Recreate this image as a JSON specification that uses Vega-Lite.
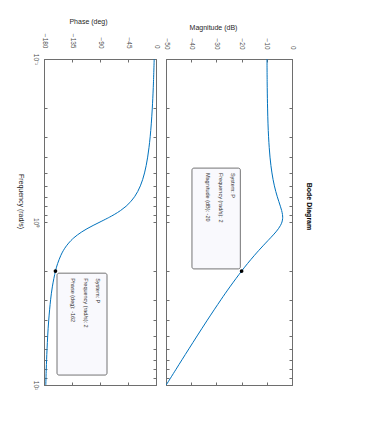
{
  "$schema": "https://vega.github.io/schema/vega-lite/v6.json",
  "padding": {"left": 16, "top": 16, "right": 5, "bottom": 5},
  "bounds": "flush",
  "spacing": 10,
  "config": {
    "view": {"stroke": "#7a7a7a", "strokeWidth": 1},
    "font": "Liberation Sans",
    "axis": {
      "grid": false,
      "labelFlush": false,
      "labelOverlap": false,
      "domainColor": "#6e6e6e",
      "tickColor": "#6e6e6e",
      "labelColor": "#4d4d4d",
      "titleColor": "#262626",
      "labelFont": "Liberation Sans",
      "titleFont": "Liberation Sans",
      "labelFontSize": 6.5,
      "titleFontSize": 7,
      "titleFontWeight": "normal"
    }
  },
  "datasets": {
    "bode": [
      {"freq": 0.1, "mag": -9.92, "phase": -2.89},
      {"freq": 0.15, "mag": -9.83, "phase": -4.39},
      {"freq": 0.2, "mag": -9.69, "phase": -5.95},
      {"freq": 0.25, "mag": -9.52, "phase": -7.59},
      {"freq": 0.3, "mag": -9.30, "phase": -9.36},
      {"freq": 0.35, "mag": -9.03, "phase": -11.28},
      {"freq": 0.4, "mag": -8.73, "phase": -13.39},
      {"freq": 0.45, "mag": -8.37, "phase": -15.76},
      {"freq": 0.5, "mag": -7.96, "phase": -18.43},
      {"freq": 0.55, "mag": -7.50, "phase": -21.52},
      {"freq": 0.6, "mag": -6.99, "phase": -25.11},
      {"freq": 0.65, "mag": -6.43, "phase": -29.37},
      {"freq": 0.7, "mag": -5.83, "phase": -34.46},
      {"freq": 0.75, "mag": -5.21, "phase": -40.60},
      {"freq": 0.8, "mag": -4.62, "phase": -48.01},
      {"freq": 0.85, "mag": -4.11, "phase": -56.86},
      {"freq": 0.9, "mag": -3.78, "phase": -67.11},
      {"freq": 0.935, "mag": -3.70, "phase": -74.94},
      {"freq": 0.95, "mag": -3.71, "phase": -78.40},
      {"freq": 1.0, "mag": -3.98, "phase": -90.0},
      {"freq": 1.05, "mag": -4.57, "phase": -101.05},
      {"freq": 1.1, "mag": -5.40, "phase": -110.90},
      {"freq": 1.15, "mag": -6.38, "phase": -119.29},
      {"freq": 1.2, "mag": -7.43, "phase": -126.25},
      {"freq": 1.25, "mag": -8.49, "phase": -131.99},
      {"freq": 1.3, "mag": -9.54, "phase": -136.71},
      {"freq": 1.4, "mag": -11.50, "phase": -143.91},
      {"freq": 1.5, "mag": -13.27, "phase": -149.04},
      {"freq": 1.6, "mag": -14.88, "phase": -152.85},
      {"freq": 1.8, "mag": -17.66, "phase": -158.11},
      {"freq": 2.0, "mag": -20.00, "phase": -161.57},
      {"freq": 2.5, "mag": -24.64, "phase": -166.61},
      {"freq": 3.0, "mag": -28.21, "phase": -169.38},
      {"freq": 4.0, "mag": -33.60, "phase": -172.41},
      {"freq": 5.0, "mag": -37.65, "phase": -174.05},
      {"freq": 6.0, "mag": -40.91, "phase": -175.10},
      {"freq": 7.0, "mag": -43.65, "phase": -175.83},
      {"freq": 8.0, "mag": -46.00, "phase": -176.37},
      {"freq": 10.0, "mag": -49.92, "phase": -177.11}
    ],
    "tip": [{"freq": 2, "mag": -20, "phase": -161.57}]
  },
  "hconcat": [
    {
      "width": 112,
      "height": 326,
      "layer": [
        {
          "data": {"name": "bode"},
          "mark": {"type": "line", "color": "#0072BD", "strokeWidth": 1, "interpolate": "catmull-rom"},
          "encoding": {
            "order": {"field": "freq", "type": "quantitative"},
            "x": {
              "field": "phase", "type": "quantitative",
              "scale": {"domain": [-180, 0], "nice": false, "zero": false},
              "axis": {
                "orient": "top", "values": [-180, -135, -90, -45, 0],
                "title": "Phase (deg)", "titleX": 44, "titleY": -38, "titleAngle": 0,
                "titleAlign": "center", "titleBaseline": "middle",
                "labelAngle": 90, "labelAlign": "right", "labelBaseline": "middle",
                "labelPadding": 14, "tickSize": -3
              }
            },
            "y": {
              "field": "freq", "type": "quantitative",
              "scale": {"type": "log", "domain": [0.1, 10], "reverse": true, "nice": false},
              "axis": {
                "orient": "left",
                "values": [0.1, 0.2, 0.3, 0.4, 0.5, 0.6, 0.7, 0.8, 0.9, 1, 2, 3, 4, 5, 6, 7, 8, 9, 10],
                "labelExpr": "datum.value == 0.1 ? '10⁻¹' : datum.value == 1 ? '10⁰' : datum.value == 10 ? '10¹' : ''",
                "title": "Frequency (rad/s)", "titleAngle": 90, "titleX": -24, "titleY": 142,
                "titleAlign": "center", "titleBaseline": "middle",
                "labelAngle": 90, "labelAlign": "center", "labelBaseline": "top",
                "labelPadding": 9, "tickSize": -3
              }
            }
          }
        },
        {
          "data": {"name": "tip"},
          "mark": {"type": "rect", "fill": "#f9f9fd", "stroke": "#505050", "strokeWidth": 0.8, "cornerRadius": 2},
          "encoding": {
            "x": {"datum": -159.1, "type": "quantitative", "axis": null},
            "x2": {"datum": -78.75},
            "y": {"datum": 2.06, "type": "quantitative", "axis": null},
            "y2": {"datum": 8.69}
          }
        },
        {
          "data": {"name": "tip"},
          "mark": {"type": "text", "text": ["System: P", "Frequency (rad/s): 2", "Phase (deg): -162"], "angle": 90, "align": "left", "baseline": "top", "fontSize": 5.5, "lineHeight": 12.5, "color": "#333333"},
          "encoding": {
            "x": {"datum": -90, "type": "quantitative", "axis": null},
            "y": {"datum": 2.21, "type": "quantitative", "axis": null}
          }
        },
        {
          "data": {"name": "tip"},
          "mark": {"type": "point", "filled": true, "color": "#000000", "size": 14, "opacity": 1},
          "encoding": {
            "x": {"field": "phase", "type": "quantitative",
              "axis": {"orient": "bottom", "values": [-180, -135, -90, -45, 0], "labels": false, "title": null, "tickSize": -3}},
            "y": {"field": "freq", "type": "quantitative",
              "axis": {"orient": "right", "values": [0.1, 0.2, 0.3, 0.4, 0.5, 0.6, 0.7, 0.8, 0.9, 1, 2, 3, 4, 5, 6, 7, 8, 9, 10], "labels": false, "title": null, "tickSize": -3}}
          }
        }
      ],
      "resolve": {"axis": {"x": "independent", "y": "independent"}}
    },
    {
      "width": 126,
      "height": 326,
      "layer": [
        {
          "data": {"name": "bode"},
          "mark": {"type": "line", "color": "#0072BD", "strokeWidth": 1, "interpolate": "catmull-rom"},
          "encoding": {
            "order": {"field": "freq", "type": "quantitative"},
            "x": {
              "field": "mag", "type": "quantitative",
              "scale": {"domain": [-50, 0], "nice": false, "zero": false},
              "axis": {
                "orient": "top", "values": [-50, -40, -30, -20, -10, 0],
                "title": "Magnitude (dB)", "titleX": 47, "titleY": -32, "titleAngle": 0,
                "titleAlign": "center", "titleBaseline": "middle",
                "labelAngle": 90, "labelAlign": "right", "labelBaseline": "middle",
                "labelPadding": 13, "tickSize": -3
              }
            },
            "y": {
              "field": "freq", "type": "quantitative",
              "scale": {"type": "log", "domain": [0.1, 10], "reverse": true, "nice": false},
              "axis": {
                "orient": "left",
                "values": [0.1, 0.2, 0.3, 0.4, 0.5, 0.6, 0.7, 0.8, 0.9, 1, 2, 3, 4, 5, 6, 7, 8, 9, 10],
                "labels": false, "title": null, "tickSize": -3
              }
            }
          }
        },
        {
          "data": {"name": "tip"},
          "mark": {"type": "rect", "fill": "#f9f9fd", "stroke": "#505050", "strokeWidth": 0.8, "cornerRadius": 2},
          "encoding": {
            "x": {"datum": -39.7, "type": "quantitative", "axis": null},
            "x2": {"datum": -20.5},
            "y": {"datum": 0.467, "type": "quantitative", "axis": null},
            "y2": {"datum": 1.94}
          }
        },
        {
          "data": {"name": "tip"},
          "mark": {"type": "text", "text": ["System: P", "Frequency (rad/s): 2", "Magnitude (dB): -20"], "angle": 90, "align": "left", "baseline": "top", "fontSize": 5.5, "lineHeight": 12.5, "color": "#333333"},
          "encoding": {
            "x": {"datum": -22.6, "type": "quantitative", "axis": null},
            "y": {"datum": 0.5, "type": "quantitative", "axis": null}
          }
        },
        {
          "data": {"name": "tip"},
          "mark": {"type": "point", "filled": true, "color": "#000000", "size": 14, "opacity": 1},
          "encoding": {
            "x": {"field": "mag", "type": "quantitative",
              "axis": {"orient": "bottom", "values": [-50, -40, -30, -20, -10, 0], "labels": false, "title": null, "tickSize": -3}},
            "y": {"field": "freq", "type": "quantitative",
              "axis": {"orient": "right", "values": [0.1, 0.2, 0.3, 0.4, 0.5, 0.6, 0.7, 0.8, 0.9, 1, 2, 3, 4, 5, 6, 7, 8, 9, 10], "labels": false,
                "title": "Bode Diagram", "titleAngle": 90, "titleX": 16, "titleY": 147, "titleAlign": "center", "titleBaseline": "middle",
                "titleFontWeight": "bold", "titleColor": "#000000", "titleFontSize": 7, "tickSize": -3}}
          }
        }
      ],
      "resolve": {"axis": {"x": "independent", "y": "independent"}}
    }
  ]
}
